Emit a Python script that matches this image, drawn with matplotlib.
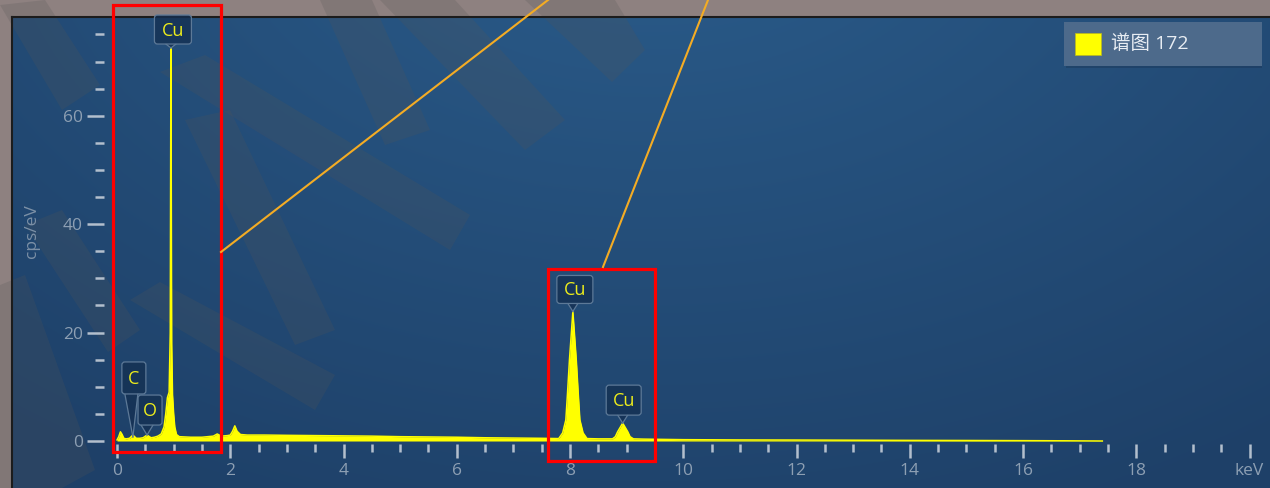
import numpy as np
import matplotlib
matplotlib.use("Agg")
import matplotlib.pyplot as plt
import matplotlib.transforms as mtransforms
from matplotlib.patches import FancyBboxPatch, Polygon, Rectangle
from matplotlib.lines import Line2D

# ---------------- data ----------------
# EDS spectrum samples: energy (keV) and intensity (cps/eV)
energy_kev = [0.00, 0.03, 0.06, 0.09, 0.12, 0.16, 0.22, 0.28, 0.34, 0.40, 0.46, 0.53,
              0.60, 0.66, 0.72, 0.78, 0.83, 0.86, 0.89, 0.92, 0.94, 0.948, 0.952, 0.956,
              0.965, 0.98, 1.00, 1.02, 1.05, 1.10, 1.30, 1.50, 1.70, 1.77, 1.84, 1.95,
              2.00, 2.04, 2.08, 2.12, 2.18, 2.30, 2.60, 3.00, 3.50, 4.00, 4.50, 5.00,
              5.50, 6.00, 6.50, 7.00, 7.50, 7.80, 7.87, 7.926, 7.956, 7.99, 8.05, 8.11,
              8.144, 8.174, 8.23, 8.30, 8.50, 8.75, 8.80, 8.84, 8.93, 9.02, 9.06, 9.12,
              9.30, 10.0, 11.0, 12.0, 13.0, 14.0, 15.0, 16.0, 16.8, 17.4]
counts_cps = [0.2, 0.8, 1.7, 1.2, 0.5, 0.4, 0.5, 1.1, 0.5, 0.5, 0.6, 1.1,
              0.6, 0.7, 0.9, 1.3, 2.6, 5.0, 8.0, 9.0, 20.0, 55.0, 72.5, 55.0,
              18.0, 8.5, 5.0, 2.6, 1.2, 0.8, 0.7, 0.7, 0.9, 1.3, 0.9, 1.0,
              1.1, 1.8, 2.8, 1.8, 1.2, 1.1, 1.1, 1.05, 1.0, 0.95, 0.9, 0.8,
              0.75, 0.7, 0.6, 0.55, 0.5, 0.45, 1.5, 3.9, 8.9, 15.0, 23.9, 15.0,
              8.9, 3.9, 1.5, 0.45, 0.4, 0.4, 0.8, 1.7, 3.3, 1.7, 0.8, 0.4,
              0.35, 0.25, 0.2, 0.18, 0.15, 0.12, 0.1, 0.07, 0.04, 0.0]

# element markers: name, energy of the marked line and its apex value
marker_names = ["C", "O", "Cu", "Cu", "Cu"]
marker_kev = [0.28, 0.53, 0.952, 8.05, 8.93]
marker_cps = [0.75, 1.1, 72.5, 23.9, 3.3]

x_major = list(range(0, 21, 2))
x_labels = ["0", "2", "4", "6", "8", "10", "12", "14", "16", "18", "keV"]
y_major = [0, 20, 40, 60]
y_minor = [5, 10, 15, 25, 30, 35, 45, 50, 55, 65, 70, 75]
legend_label = "谱图 172"

# ---------------- figure ----------------
W, H = 1270, 488
fig = plt.figure(figsize=(W / 100, H / 100), dpi=100, facecolor="#8e8180")


def fx(px):
    return px / W


def fy(py):
    return 1 - py / H


# gradient panel
bg = fig.add_axes([fx(12), 0, fx(W - 12), (H - 17) / H])
bg.set_axis_off()
yy, xx = np.mgrid[0:471, 0:1258].astype(float)
d = np.hypot(xx - 640, (yy + 140) * 1.5)
t = np.clip((d - 150) / 900, 0, 1)[..., None]
light = np.array([0x29, 0x59, 0x87]) / 255
dark = np.array([0x1e, 0x40, 0x68]) / 255
bg.imshow(light * (1 - t) + dark * t, aspect="auto", extent=[0, 1, 0, 1],
          interpolation="bilinear")
bg.set_xlim(0, 1)
bg.set_ylim(0, 1)

# translucent watermark bands (pixel coordinates, origin top-left)
wm_bands = [
    [(0, 5), (45, 0), (100, 85), (62, 110)],
    [(160, 72), (205, 55), (470, 215), (450, 250)],
    [(320, 0), (372, 0), (430, 130), (385, 145)],
    [(380, 0), (455, 0), (565, 120), (525, 150)],
    [(525, 0), (615, 0), (645, 50), (612, 82)],
    [(185, 120), (230, 110), (335, 330), (295, 345)],
    [(130, 300), (160, 282), (335, 375), (315, 410)],
    [(25, 225), (62, 210), (140, 330), (108, 352)],
    [(0, 285), (25, 275), (95, 470), (62, 488), (0, 488)],
]
for band in wm_bands:
    fig.add_artist(Polygon([(fx(a), fy(b)) for a, b in band], closed=True,
                           transform=fig.transFigure, fc="#555555", ec="none",
                           alpha=0.22, zorder=1))

# frame lines at the panel edge
fig.add_artist(Line2D([fx(11.5), 1], [fy(16.5), fy(16.5)], transform=fig.transFigure,
                      color="#1c1c1c", lw=1.5, zorder=2))
fig.add_artist(Line2D([fx(11.5), fx(11.5)], [0, fy(16.5)], transform=fig.transFigure,
                      color="#1c1c1c", lw=1.5, zorder=2))

# main axes: 0 keV at x=117px, 20 keV at 1249.5px; 0 cps at y=441px, 5.42px per unit
x0, x1 = -0.23, 20.25
y0, y1 = -0.55, 78.0
ax = fig.add_axes([fx(104), (H - 444) / H, fx(1263.7 - 104), (444 - 18.2) / H])
ax.set_zorder(3)
ax.patch.set_alpha(0)
for s in ax.spines.values():
    s.set_visible(False)
ax.set_xlim(x0, x1)
ax.set_ylim(y0, y1)

yellow = "#ffff00"
ax.fill_between(energy_kev, counts_cps, 0, color=yellow, lw=0, zorder=2)
ax.plot(energy_kev, counts_cps, color=yellow, lw=1.1, zorder=3)

tick_col = "#b3bfcd"
lab_col = "#8d9fb3"
font = ["Open Sans", "DejaVu Sans"]
minor_x = [v for v in np.arange(0.5, 20, 0.5) if v % 2 != 0]
ax.set_xticks(x_major)
ax.set_xticklabels(x_labels)
ax.set_xticks(minor_x, minor=True)
ax.set_yticks(y_major)
ax.set_yticks(y_minor, minor=True)
ax.tick_params(axis="x", which="major", direction="out", length=10, width=1.8,
               color=tick_col, labelcolor=lab_col, labelsize=12.5, pad=4)
ax.tick_params(axis="x", which="minor", direction="out", length=5.8, width=1.8,
               color=tick_col)
ax.tick_params(axis="y", which="major", direction="out", length=12.2, width=1.8,
               color=tick_col, labelcolor=lab_col, labelsize=12.5, pad=3)
ax.tick_params(axis="y", which="minor", direction="out", length=6.5, width=1.8,
               color=tick_col)
for lab in ax.get_xticklabels() + ax.get_yticklabels():
    lab.set_family(font)

fig.text(fx(32), fy(231), "cps/eV", rotation=90, ha="center", va="center",
         color="#7c90a6", fontsize=12.5, family=font, zorder=4)

# element markers: rounded box with a pointer to the apex
box_fc = (0.08, 0.19, 0.32, 0.78)
box_ec = "#5d7997"
callouts = [
    # dx, gap, width, height, pointer base
    (1, 43, 24, 32, (-8, 5)),
    (3, 10, 24, 30, (-6, 6)),
    (2, 4, 37, 29, (-5, 5)),
    (2, 8, 36, 28, (-5, 5)),
    (1, 8, 35, 30, (-5, 5)),
]
for name, xk, yk, (dx, gap, bw, bh, base) in zip(marker_names, marker_kev, marker_cps,
                                                  callouts):
    tr = mtransforms.ScaledTranslation(xk, yk, ax.transData)
    ax.add_artist(Polygon([(base[0], gap + 0.5), (base[1], gap + 0.5), (0, 0)],
                          closed=True, transform=tr, fc=box_fc, ec="none",
                          clip_on=False, zorder=5))
    for bx in base:
        ax.add_artist(Line2D([bx, 0], [gap, 0], transform=tr, color=box_ec,
                             lw=0.9, clip_on=False, zorder=5))
    ax.add_artist(FancyBboxPatch((dx - bw / 2, gap), bw, bh,
                                 boxstyle="round,pad=0,rounding_size=3",
                                 transform=tr, fc=box_fc, ec=box_ec, lw=0.9,
                                 clip_on=False, zorder=6))
    ax.text(dx, gap + bh / 2 - 1, name, transform=tr, ha="center", va="center",
            color="#ecec1c", fontsize=13, family=font, zorder=7, clip_on=False)

# highlight frames around the Cu lines
ax.add_patch(Rectangle((-0.07, -2.1), 1.90, 82.5, fill=False, ec="#ff0000", lw=2.3,
                       clip_on=False, zorder=8))
ax.add_patch(Rectangle((7.61, -3.6), 1.89, 35.4, fill=False, ec="#ff0000", lw=2.3,
                       clip_on=False, zorder=8))

# leader lines towards the top edge
fig.add_artist(Line2D([fx(221), fx(548)], [fy(252), fy(0)], transform=fig.transFigure,
                      color="#f4ac24", lw=1.5, zorder=9))
fig.add_artist(Line2D([fx(603), fx(708)], [fy(267), fy(0)], transform=fig.transFigure,
                      color="#f4ac24", lw=1.5, zorder=9))

# legend
fig.add_artist(FancyBboxPatch((fx(1066), fy(68)), fx(196), 45 / H,
                              boxstyle="square,pad=0", transform=fig.transFigure,
                              fc="#17304d", ec="none", alpha=0.35, zorder=9))
fig.add_artist(FancyBboxPatch((fx(1064), fy(66)), fx(198), 44 / H,
                              boxstyle="square,pad=0", transform=fig.transFigure,
                              fc="#4d6a8b", ec="none", zorder=10))
fig.add_artist(Rectangle((fx(1075), fy(55)), fx(26), 22 / H, transform=fig.transFigure,
                         fc=yellow, ec="#b8b820", lw=0.6, zorder=11))
fig.text(fx(1111), fy(44), legend_label, ha="left", va="center", color="#e8edf3",
         fontsize=14, family=["Open Sans", "Noto Sans CJK SC"], zorder=11)

fig.savefig("out.png", dpi=100, facecolor=fig.get_facecolor())
